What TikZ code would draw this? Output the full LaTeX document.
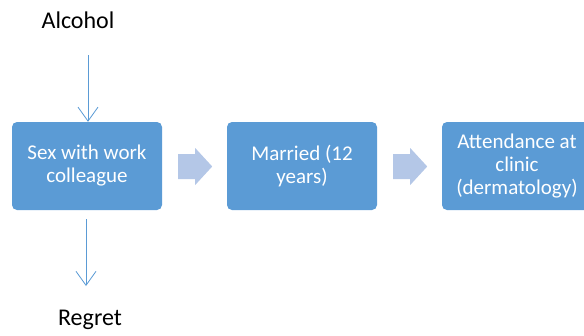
\documentclass[tikz,border=0pt]{standalone}
\usepackage{fontspec}
\setmainfont{Carlito}
\usetikzlibrary{arrows.meta,calc}
\definecolor{boxblue}{HTML}{5B9BD5}
\definecolor{chevron}{HTML}{B4C7E7}
\tikzset{
  stepbox/.style={fill=boxblue, draw=none, rounded corners=5pt,
    minimum width=150pt, minimum height=88pt, inner sep=0pt,
    text=white, align=center, font=\fontsize{21}{23}\selectfont},
  label/.style={font=\fontsize{24}{28}\selectfont, text=black, inner sep=0pt},
  link/.style={draw=boxblue, line width=0.8pt, -{Straight Barb[length=14pt,width=20pt,line width=0.8pt]}},
}
\newcommand{\blockarrow}[1]{%
  \fill[chevron] ($#1+(0,-12)$) -- ++(17,0) -- ++(0,-6) -- ++(17,18.5) -- ++(-17,18.5) -- ++(0,-6) -- ++(-17,0) -- cycle;}
\begin{document}
\begin{tikzpicture}[x=1pt,y=-1pt]
  \useasboundingbox (0,0) rectangle (584,335);
  \node[stepbox] (sex) at (87,166) {Sex with work\\colleague};
  \node[stepbox] (married) at (302,166) {Married (12\\years)};
  \node[stepbox] (clinic) at (517,166) {Attendance at\\clinic\\(dermatology)};
  \node[label] (alcohol) at (78,20) {Alcohol};
  \node[label] (regret) at (90,320) {Regret};
  \coordinate (atop) at (88,55);
  \coordinate (rbot) at (86,286);
  \draw[link] (atop) -- (atop |- sex.north);
  \draw[link] (sex.south -| rbot) ++(0,9) -- (rbot);
  \blockarrow{(sex.east)+(16,0)}
  \blockarrow{(married.east)+(16,0)}
\end{tikzpicture}
\end{document}
